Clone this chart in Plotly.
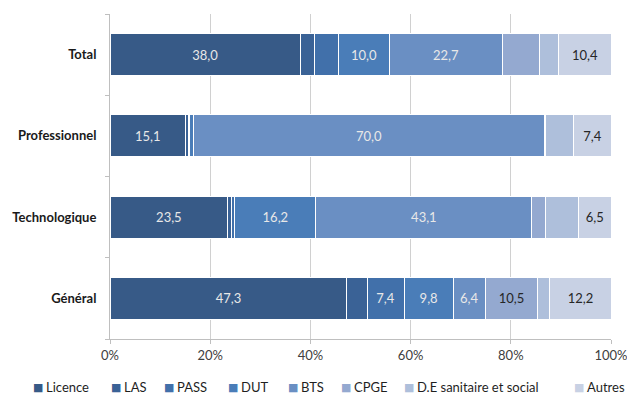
import plotly.graph_objects as go

categories = ["Général", "Technologique", "Professionnel", "Total"]
series_names = ["Licence", "LAS", "PASS", "DUT", "BTS", "CPGE", "D.E sanitaire et social", "Autres"]
licence = [47.3, 23.5, 15.1, 38.0]
las = [4.0, 0.8, 0.5, 2.8]
pass_ = [7.4, 0.6, 0.3, 4.9]
dut = [9.8, 16.2, 0.8, 10.0]
bts = [6.4, 43.1, 70.0, 22.7]
cpge = [10.5, 2.7, 0.2, 7.4]
de = [2.4, 6.6, 5.7, 3.8]
autres = [12.2, 6.5, 7.4, 10.4]
series_values = [licence, las, pass_, dut, bts, cpge, de, autres]
# which values carry a data label
shown = [
    [True, True, True, True],
    [False, False, False, False],
    [True, False, False, False],
    [True, True, False, True],
    [True, True, True, True],
    [True, False, False, False],
    [False, False, False, False],
    [True, True, True, True],
]
x_ticks = [0, 20, 40, 60, 80, 100]
x_tick_labels = ["0%", "20%", "40%", "60%", "80%", "100%"]

colors = ["#375a87", "#3a6296", "#4170aa", "#4a7db8", "#6a8fc3", "#94a9d0", "#aebfdb", "#c8d1e4"]
text_colors = ["#e8e8e8", "#e8e8e8", "#e8e8e8", "#e8e8e8", "#e8e8e8", "#262626", "#262626", "#262626"]

FONT = "Lato, Noto Sans, sans-serif"
# the page body has an 8px default margin: size the figure so it fits the 635x400 window
OFF = 8
W, H = 635 - OFF, 400 - OFF
ML, MR, MT, MB = 110 - OFF, 24, 14 - OFF, 61
PW, PH = W - ML - MR, H - MT - MB

fig = go.Figure()
for name, vals, col, tcol, sh in zip(series_names, series_values, colors, text_colors, shown):
    texts = [f"{v:.1f}".replace(".", ",") if s else "" for v, s in zip(vals, sh)]
    fig.add_trace(go.Bar(
        y=categories, x=vals, name=name, orientation="h",
        marker=dict(color=col, line=dict(color="white", width=1)),
        text=texts, texttemplate="%{text}", textposition="inside",
        insidetextanchor="middle", textangle=0, constraintext="none",
        textfont=dict(color=tcol, size=13, family=FONT),
        hoverinfo="x+name", showlegend=False,
    ))

# custom one-line legend (square + label), positions in window pixels
legend_px = [32, 110, 163, 227, 287, 340, 403, 573]
legend_y = (MT + PH - (387 - OFF)) / PH
annotations = []
for name, col, px in zip(series_names, colors, legend_px):
    annotations.append(dict(
        xref="paper", yref="paper", x=(px - OFF - 1 - ML) / PW, y=legend_y,
        xanchor="left", yanchor="middle", showarrow=False,
        text="■", font=dict(color=col, size=11, family="DejaVu Sans")))
    annotations.append(dict(
        xref="paper", yref="paper", x=(px - OFF + 12 - ML) / PW, y=legend_y,
        xanchor="left", yanchor="middle", showarrow=False,
        text=name, font=dict(color="#1f1f1f", size=13, family=FONT)))

fig.update_layout(
    barmode="stack",
    bargap=0.483,
    width=W, height=H,
    margin=dict(l=ML, r=MR, t=MT, b=MB),
    paper_bgcolor="white", plot_bgcolor="white",
    font=dict(family=FONT, size=13, color="#262626"),
    showlegend=False,
    annotations=annotations,
)
fig.update_xaxes(range=[0, 100], tickvals=x_ticks, ticktext=x_tick_labels,
                 showgrid=True, gridcolor="#d0d0d0", gridwidth=1,
                 showline=True, linecolor="#bfbfbf", linewidth=1,
                 ticks="outside", ticklen=4, tickcolor="#bfbfbf",
                 tickfont=dict(size=13, color="#404040", family=FONT),
                 zeroline=False, fixedrange=True, automargin=False)
fig.update_yaxes(showline=True, linecolor="#bfbfbf", linewidth=1,
                 ticks="outside", tickson="boundaries", ticklen=4, tickcolor="#bfbfbf",
                 tickfont=dict(size=13, color="#1a1a1a", family=FONT),
                 ticklabelstandoff=10, fixedrange=True, automargin=False,
                 tickvals=categories,
                 ticktext=[f"<b>{c}</b>" for c in categories])

fig.write_html("out.html")
